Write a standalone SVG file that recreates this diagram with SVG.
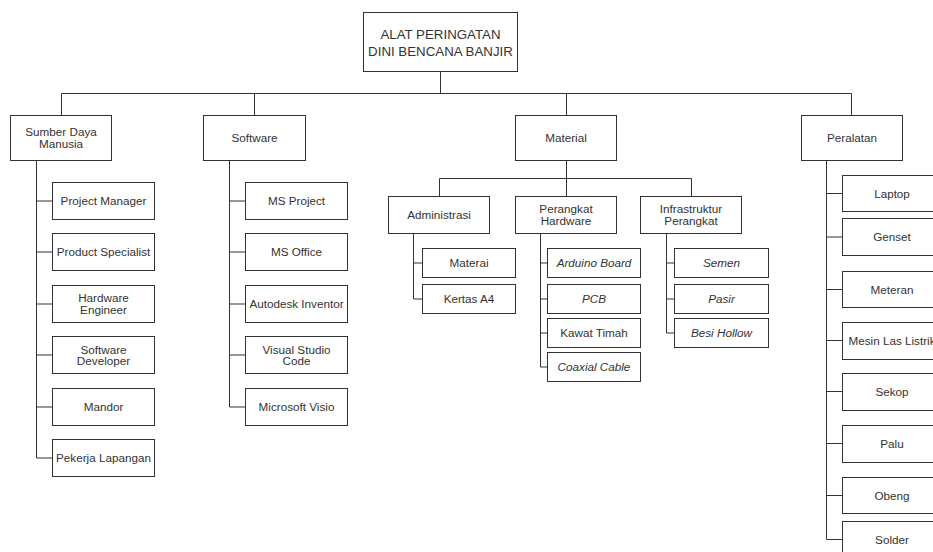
<svg xmlns="http://www.w3.org/2000/svg" width="933" height="552" viewBox="0 0 933 552">
<style>
rect{fill:#fff;stroke:#333;stroke-width:1}
text{font-family:"Liberation Sans",Arial,sans-serif;font-size:11.7px;fill:#333;text-anchor:middle}
.i{font-style:italic}
.r{font-size:13.3px}
#connectors path{fill:none;stroke:#333;stroke-width:1}
</style>
<rect x="0" y="0" width="933" height="552" style="fill:#fff;stroke:none"/>
<g id="connectors">
<path d="M440.5 71.5V93.5M61.5 115.5V93.5H851.5V115.5M254.5 93.5V115.5M566.5 93.5V115.5"/>
<path d="M36.5 160.5V458H52.5M36.5 201H52.5M36.5 252H52.5M36.5 304H52.5M36.5 355H52.5M36.5 407H52.5"/>
<path d="M229.5 160.5V407H245.5M229.5 201H245.5M229.5 252H245.5M229.5 304H245.5M229.5 355H245.5"/>
<path d="M566.5 160.5V196.5M439.5 196.5V178.5H691.5V196.5"/>
<path d="M413.5 233.5V299H422.5M413.5 263H422.5"/>
<path d="M540.5 233.5V367H547.5M540.5 263H547.5M540.5 299H547.5M540.5 333H547.5"/>
<path d="M666.5 233.5V333H674.5M666.5 263H674.5M666.5 299H674.5"/>
<path d="M826.5 160.5V539.5H842.5M826.5 193.5H842.5M826.5 237H842.5M826.5 289.5H842.5M826.5 340.5H842.5M826.5 391.5H842.5M826.5 443.5H842.5M826.5 495.5H842.5"/>
</g>
<g id="root"><rect x="363.5" y="12.5" width="154" height="59"/><text class="r" x="440.5" y="39">ALAT PERINGATAN</text><text class="r" x="440.5" y="56">DINI BENCANA BANJIR</text></g>
<g id="sdm"><rect x="10.5" y="115.5" width="101" height="45"/><text x="61" y="136">Sumber Daya</text><text x="61" y="147.5">Manusia</text></g>
<g id="software"><rect x="203.5" y="115.5" width="102" height="45"/><text x="254.5" y="142">Software</text></g>
<g id="material"><rect x="515.5" y="115.5" width="101" height="45"/><text x="566" y="142">Material</text></g>
<g id="peralatan"><rect x="801.5" y="115.5" width="101" height="45"/><text x="852" y="142">Peralatan</text></g>

<g id="pm"><rect x="52.5" y="182.5" width="102" height="37"/><text x="103.5" y="205">Project Manager</text></g>
<g id="ps"><rect x="52.5" y="233.5" width="102" height="37"/><text x="103.5" y="256">Product Specialist</text></g>
<g id="he"><rect x="52.5" y="285.5" width="102" height="37"/><text x="103.5" y="302">Hardware</text><text x="103.5" y="313.5">Engineer</text></g>
<g id="sd"><rect x="52.5" y="336.5" width="102" height="37"/><text x="103.5" y="353.5">Software</text><text x="103.5" y="365">Developer</text></g>
<g id="mandor"><rect x="52.5" y="388.5" width="102" height="37"/><text x="103.5" y="411">Mandor</text></g>
<g id="pl"><rect x="52.5" y="439.5" width="102" height="37"/><text x="103.5" y="462">Pekerja Lapangan</text></g>

<g id="msp"><rect x="245.5" y="182.5" width="102" height="37"/><text x="296.5" y="205">MS Project</text></g>
<g id="mso"><rect x="245.5" y="233.5" width="102" height="37"/><text x="296.5" y="256">MS Office</text></g>
<g id="adi"><rect x="245.5" y="285.5" width="102" height="37"/><text x="296.5" y="308">Autodesk Inventor</text></g>
<g id="vsc"><rect x="245.5" y="336.5" width="102" height="37"/><text x="296.5" y="353.5">Visual Studio</text><text x="296.5" y="365">Code</text></g>
<g id="msv"><rect x="245.5" y="388.5" width="102" height="37"/><text x="296.5" y="411">Microsoft Visio</text></g>

<g id="adm"><rect x="388.5" y="196.5" width="101" height="37"/><text x="439" y="219">Administrasi</text></g>
<g id="ph"><rect x="515.5" y="196.5" width="101" height="37"/><text x="566" y="213">Perangkat</text><text x="566" y="224.5">Hardware</text></g>
<g id="ip"><rect x="640.5" y="196.5" width="101" height="37"/><text x="691" y="213">Infrastruktur</text><text x="691" y="224.5">Perangkat</text></g>

<g id="materai"><rect x="422.5" y="248.5" width="93" height="29"/><text x="469" y="267">Materai</text></g>
<g id="kertas"><rect x="422.5" y="284.5" width="93" height="29"/><text x="469" y="303">Kertas A4</text></g>

<g id="arduino"><rect x="547.5" y="248.5" width="93" height="29"/><text class="i" x="594" y="267">Arduino Board</text></g>
<g id="pcb"><rect x="547.5" y="284.5" width="93" height="29"/><text class="i" x="594" y="303">PCB</text></g>
<g id="kawat"><rect x="547.5" y="318.5" width="93" height="29"/><text x="594" y="337">Kawat Timah</text></g>
<g id="coax"><rect x="547.5" y="352.5" width="93" height="29"/><text class="i" x="594" y="371">Coaxial Cable</text></g>

<g id="semen"><rect x="674.5" y="248.5" width="94" height="29"/><text class="i" x="721.5" y="267">Semen</text></g>
<g id="pasir"><rect x="674.5" y="284.5" width="94" height="29"/><text class="i" x="721.5" y="303">Pasir</text></g>
<g id="besi"><rect x="674.5" y="318.5" width="94" height="29"/><text class="i" x="721.5" y="337">Besi Hollow</text></g>

<g id="laptop"><rect x="842.5" y="175.5" width="100" height="36"/><text x="892" y="197.5">Laptop</text></g>
<g id="genset"><rect x="842.5" y="218.5" width="100" height="37"/><text x="892" y="241">Genset</text></g>
<g id="meteran"><rect x="842.5" y="271.5" width="100" height="36"/><text x="892" y="293.5">Meteran</text></g>
<g id="mesin"><rect x="842.5" y="322.5" width="100" height="37"/><text x="892" y="345">Mesin Las Listrik</text></g>
<g id="sekop"><rect x="842.5" y="373.5" width="100" height="37"/><text x="892" y="396">Sekop</text></g>
<g id="palu"><rect x="842.5" y="425.5" width="100" height="37"/><text x="892" y="448">Palu</text></g>
<g id="obeng"><rect x="842.5" y="477.5" width="100" height="36"/><text x="892" y="499.5">Obeng</text></g>
<g id="solder"><rect x="842.5" y="521.5" width="100" height="37"/><text x="892" y="543.5">Solder</text></g>
</svg>
